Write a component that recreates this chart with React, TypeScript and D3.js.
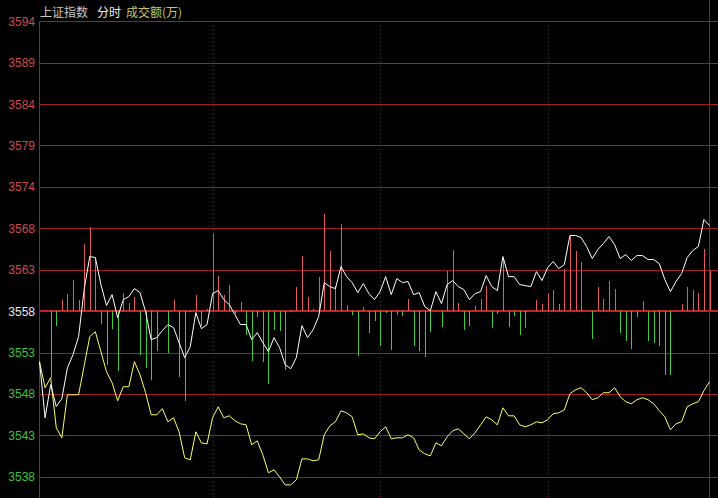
import React from "react";
import * as d3 from "d3";

// ---- data ----
const titleParts = ["上证指数", "分时", "成交额(万)"];
const yTickLabels = ["3594", "3589", "3584", "3579", "3574", "3568", "3563", "3558", "3553", "3548", "3543", "3538"];
const preClose = 3558.2;
const tickStep = 5.1;
const timeMarks = [31, 61, 91];

const price = [
  3551.97, 3545.07, 3549.14, 3546.46, 3547.41, 3551.23, 3552.84, 3555.06, 3560.85, 3564.92,
  3564.8, 3561.47, 3558.88, 3560.23, 3557.4, 3559.62, 3559.99, 3560.97, 3560.48, 3558.14,
  3554.69, 3554.93, 3555.8, 3556.54, 3556.17, 3554.32, 3552.47, 3553.82, 3558.02, 3556.04,
  3556.54, 3560.36, 3560.73, 3559.62, 3559.0, 3557.77, 3556.54, 3556.54, 3554.69, 3555.55,
  3554.32, 3553.21, 3554.93, 3553.7, 3551.6, 3551.11, 3552.47, 3556.41, 3554.93, 3555.92,
  3557.52, 3561.71, 3561.22, 3560.97, 3563.69, 3562.45, 3561.71, 3560.48, 3561.59, 3560.36,
  3559.62, 3560.6, 3562.45, 3560.23, 3562.21, 3561.71, 3561.84, 3560.23, 3560.48, 3558.75,
  3558.26, 3560.6, 3559.12, 3561.47, 3561.96, 3561.22, 3560.85, 3559.62, 3560.36, 3560.6,
  3562.58, 3561.22, 3560.73, 3564.92, 3562.45, 3562.45, 3561.47, 3561.34, 3561.22, 3563.07,
  3561.96, 3563.56, 3564.3, 3563.44, 3563.93, 3567.51, 3567.51, 3567.26, 3566.15, 3564.67,
  3565.78, 3566.52, 3567.39, 3566.4, 3564.67, 3565.17, 3564.43, 3565.04, 3565.04, 3564.55,
  3564.55, 3564.06, 3562.08, 3560.6, 3561.84, 3562.82, 3564.8, 3565.66, 3566.15, 3569.48,
  3568.74,
];

const avgPrice = [
  3551.97, 3548.77, 3550.0, 3543.84, 3542.6, 3547.9, 3547.9, 3547.9, 3551.48, 3555.06,
  3555.67, 3553.21, 3550.74, 3549.38, 3547.16, 3548.89, 3548.89, 3551.97, 3550.37, 3548.15,
  3545.44, 3545.44, 3546.18, 3544.57, 3545.07, 3543.34, 3540.14, 3539.89, 3543.34, 3541.98,
  3541.86, 3545.07, 3546.42, 3545.07, 3545.31, 3544.7, 3544.33, 3544.2, 3541.74, 3542.23,
  3540.51, 3538.29, 3538.66, 3537.79, 3536.81, 3536.81, 3537.42, 3540.01, 3540.01, 3539.77,
  3539.89, 3542.97, 3544.08, 3544.57, 3545.93, 3545.68, 3545.19, 3542.97, 3543.09, 3542.6,
  3542.48, 3543.34, 3543.96, 3542.48, 3542.6, 3542.6, 3542.97, 3542.6, 3541.12, 3540.63,
  3540.38, 3541.98, 3541.62, 3542.72, 3543.46, 3543.71, 3543.09, 3542.48, 3543.22, 3544.2,
  3545.19, 3544.82, 3544.2, 3546.3, 3545.31, 3545.31, 3544.2, 3543.96, 3544.2, 3544.57,
  3544.45, 3544.82, 3545.56, 3545.68, 3546.05, 3548.03, 3548.52, 3548.77, 3548.15, 3547.29,
  3547.53, 3548.15, 3548.15, 3548.77, 3547.66, 3547.04, 3546.79, 3547.29, 3547.53, 3547.29,
  3546.79, 3545.93, 3545.19, 3543.59, 3544.33, 3544.57, 3546.42, 3546.79, 3547.04, 3548.4,
  3549.51,
];

const amount = [
  0, 1.5, -67, -15, 11, 17.5, 31.5, 11, 67.5, 84.5,
  53, -13, -53.5, -18, -60, 18.3, 7.7, 14.3, -43.5, -57,
  -68.5, -39.5, 0, -42, 11.5, -66, -90, -1, 16, -15,
  2, 77, 35, 16, 26, -3, 9, -23.5, -50, -6,
  -51, -73, -18.5, -19.5, -58.5, -1, 24.5, 55, 14.5, 2,
  34.5, 97.5, 60, 25.5, 87, 6.5, -4, -45, 4.5, -22,
  -10, -35, -2, -38.5, -4, -5, 12, -35, -39.5, -46,
  -21, 0, -16, 40.5, 61.5, 8, -18.5, -15, 5.5, 12.5,
  25.5, -17, -3, 53, -16, -5, -24, -17, 0, 11.5,
  7.5, 17.5, 21.5, 7.5, 42, 75, 60.5, 49, 0, -27.5,
  24, 12.5, 30.5, 22.5, -22, -30, -37.5, -6, 10.5, -29.5,
  -32, -35, -63.5, -63.5, 0, 7, 24.5, 21.5, 18.5, 62.5,
  41,
];

const W = 718;
const H = 498;

export default function App() {
  const kTop = 7;
  const kBottom = -4;
  const y = d3
    .scaleLinear()
    .domain([preClose + kBottom * tickStep, preClose + kTop * tickStep])
    .range([476.8, 21.2]);
  const x = d3.scaleLinear().domain([0, price.length - 1]).range([39.5, 709.5]);
  const baseY = y(preClose);
  const barScale = d3.scaleLinear().domain([0, 100]).range([0, 100]);

  const gridVals = d3.range(kTop, kBottom - 1, -1).map((k) => preClose + k * tickStep);

  const line = d3
    .line<number>()
    .x((_, i) => x(i))
    .y((d) => y(d));

  const labelColor = (i: number) => {
    const v = gridVals[i];
    if (Math.abs(v - preClose) < 0.01) return "#e8e8e8";
    return v > preClose ? "#d04a4a" : "#3cc43c";
  };

  const font = "'Liberation Sans', 'Noto Sans CJK SC', Arial, sans-serif";
  const cjk = "'Noto Sans CJK SC', 'Liberation Sans', sans-serif";
  const gridColor = "#a01e1e";

  return (
    <svg
      width={W}
      height={H}
      style={{ position: "fixed", left: 0, top: 0, display: "block", background: "#000" }}
    >
      <rect x={0} y={0} width={W} height={H} fill="#000" />
      {/* title */}
      <text x={40} y={17} fontFamily={cjk} fontSize={12} fill="#c8c8c8">
        {titleParts[0]}
      </text>
      <text x={97} y={17} fontFamily={cjk} fontSize={12} fill="#f0f0f0">
        {titleParts[1]}
      </text>
      <text x={126} y={17} fontFamily={cjk} fontSize={12} fill="#c8c86a">
        {titleParts[2]}
      </text>

      {/* horizontal grid */}
      {gridVals.map((v, i) => {
        const isBase = Math.abs(v - preClose) < 0.01;
        const yy = Math.round(y(v));
        return (
          <rect
            key={"g" + i}
            x={39}
            y={isBase ? yy - 1 : yy}
            width={W - 39}
            height={isBase ? 2 : 1}
            fill={isBase ? "#c02424" : gridColor}
            shapeRendering="crispEdges"
          />
        );
      })}

      {/* vertical dotted time lines */}
      {timeMarks.map((t, i) => {
        const xx = Math.round(x(t)) + 0.5;
        return (
          <line
            key={"t" + i}
            x1={xx}
            x2={xx}
            y1={21}
            y2={H}
            stroke={gridColor}
            strokeWidth={1}
            strokeDasharray="1,3"
            shapeRendering="crispEdges"
          />
        );
      })}

      {/* frame */}
      <rect x={39} y={21} width={1} height={H - 21} fill={gridColor} shapeRendering="crispEdges" />
      <rect x={709} y={0} width={1} height={H} fill={gridColor} shapeRendering="crispEdges" />

      {/* y labels */}
      {yTickLabels.map((lab, i) => (
        <text
          key={"l" + i}
          x={35}
          y={y(gridVals[i]) + 4.5}
          textAnchor="end"
          fontFamily={font}
          fontSize={12}
          fill={labelColor(i)}
        >
          {lab}
        </text>
      ))}

      {/* amount bars */}
      {amount.map((a, i) => {
        if (a === 0) return null;
        const h = barScale(Math.abs(a));
        const xx = Math.round(x(i));
        return (
          <rect
            key={"b" + i}
            x={xx}
            y={a > 0 ? baseY - h : baseY}
            width={1}
            height={h}
            fill={a > 0 ? "#e25a5a" : "#3ec83e"}
            shapeRendering="crispEdges"
          />
        );
      })}

      {/* average line */}
      <path d={line(avgPrice) || ""} fill="none" stroke="#ffff66" strokeWidth={1} />
      {/* price line */}
      <path d={line(price) || ""} fill="none" stroke="#ffffff" strokeWidth={1} />
    </svg>
  );
}
